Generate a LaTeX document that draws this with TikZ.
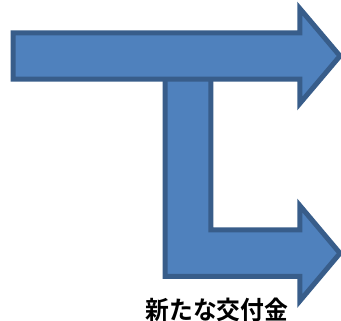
\documentclass[tikz,border=0pt]{standalone}
\usepackage{fontspec}
\newfontfamily\cjk{Noto Sans CJK JP}[BoldFont={Noto Sans CJK JP Bold}]
\definecolor{arrowfill}{HTML}{4F81BD}
\definecolor{arrowline}{HTML}{385D8A}
\begin{document}
\begin{tikzpicture}[x=1pt,y=-1pt,
  blockarrow/.style={fill=arrowfill,draw=arrowline,line width=5pt,line join=miter},
  caption/.style={inner sep=0pt,font=\cjk\bfseries\fontsize{23.8}{24}\selectfont}]
\useasboundingbox (0,0) rectangle (341,321);
% lower L-shaped arrow
\draw[blockarrow] (165,60) -- (165,276.5) -- (299.8,276.5) -- (299.8,301)
  -- (340,253.25) -- (299.8,205.5) -- (299.8,230) -- (210.8,230) -- (210.8,60) -- cycle;
% upper straight arrow
\draw[blockarrow] (13.2,32.8) -- (299.8,32.8) -- (299.8,8.5) -- (340,56) -- (299.8,103.5)
  -- (299.8,79.2) -- (13.2,79.2) -- cycle;
\node[caption,yscale=1.06] (label) at (217,309.5) {新たな交付金};
\end{tikzpicture}
\end{document}
